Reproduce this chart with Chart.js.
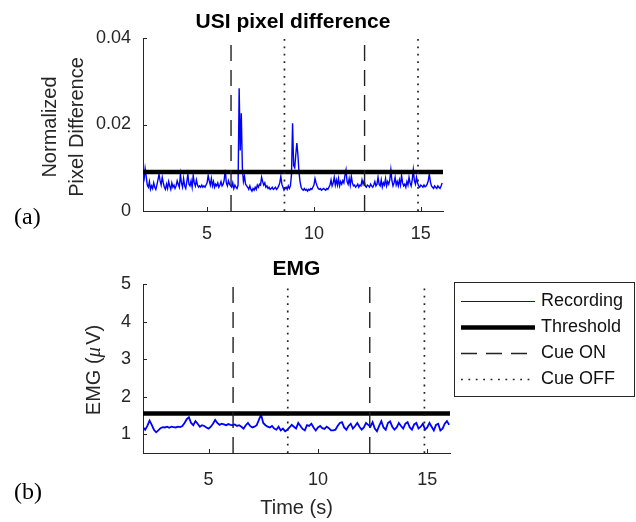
<!DOCTYPE html>
<html>
<head>
<meta charset="utf-8">
<script src="https://cdn.jsdelivr.net/npm/chart.js@4.4.1/dist/chart.umd.min.js"></script>
<style>
  html, body { margin: 0; padding: 0; background: #fff; }
  #wrap { position: relative; width: 636px; height: 522px; }
  canvas { position: absolute; left: 0; }
  #usiChart { top: 0; }
  #emgChart { top: 240px; }
</style>
</head>
<body>
<div id="wrap">
  <canvas id="usiChart" width="636" height="240"></canvas>
  <canvas id="emgChart" width="636" height="282"></canvas>
</div>
<script>
// time axis
const timeRange = [2.0, 16.04];
const timeTicks = [5, 10, 15];
const usiStart = 2.0, usiStep = 0.05;   // sampling of the USI trace
const emgStart = 2.0, emgStep = 0.1;    // sampling of the EMG trace

// cue times (s)
const cueOn = [6.12, 12.37];
const cueOff = [8.62, 14.87];

// USI normalized pixel difference, one row per second
const usiValues = [
  0.0062,0.0072,0.0098,0.0080,0.0060,0.0055,0.0068,0.0050,0.0058,0.0052,0.0065,0.0055,0.0050,0.0060,0.0072,0.0085,0.0070,0.0060,0.0078,0.0065,
  0.0055,0.0050,0.0062,0.0052,0.0068,0.0058,0.0050,0.0065,0.0055,0.0060,0.0052,0.0058,0.0070,0.0062,0.0055,0.0085,0.0065,0.0055,0.0075,0.0058,
  0.0052,0.0068,0.0085,0.0062,0.0058,0.0070,0.0055,0.0082,0.0065,0.0058,0.0072,0.0060,0.0055,0.0058,0.0055,0.0060,0.0055,0.0058,0.0055,0.0060,
  0.0065,0.0082,0.0070,0.0060,0.0075,0.0058,0.0068,0.0055,0.0062,0.0058,0.0065,0.0055,0.0060,0.0068,0.0058,0.0062,0.0072,0.0095,0.0065,0.0058,
  0.0070,0.0062,0.0058,0.0055,0.0065,0.0052,0.0060,0.0055,0.0052,0.0060,0.0284,0.0140,0.0226,0.0100,0.0068,0.0080,0.0062,0.0058,0.0055,0.0050,
  0.0058,0.0050,0.0046,0.0052,0.0048,0.0055,0.0050,0.0060,0.0055,0.0062,0.0060,0.0078,0.0068,0.0060,0.0065,0.0055,0.0058,0.0052,0.0055,0.0050,
  0.0052,0.0055,0.0050,0.0052,0.0055,0.0050,0.0053,0.0058,0.0065,0.0080,0.0062,0.0055,0.0048,0.0052,0.0055,0.0050,0.0058,0.0052,0.0058,0.0085,
  0.0203,0.0105,0.0100,0.0130,0.0157,0.0130,0.0090,0.0068,0.0055,0.0050,0.0048,0.0052,0.0048,0.0050,0.0046,0.0050,0.0048,0.0052,0.0050,0.0055,
  0.0060,0.0075,0.0065,0.0058,0.0052,0.0050,0.0052,0.0048,0.0050,0.0052,0.0050,0.0048,0.0052,0.0050,0.0055,0.0060,0.0072,0.0058,0.0065,0.0078,
  0.0060,0.0072,0.0060,0.0075,0.0058,0.0068,0.0062,0.0070,0.0065,0.0082,0.0095,0.0068,0.0062,0.0075,0.0060,0.0080,0.0065,0.0058,0.0060,0.0055,
  0.0058,0.0062,0.0055,0.0060,0.0058,0.0072,0.0062,0.0070,0.0058,0.0055,0.0060,0.0058,0.0055,0.0062,0.0058,0.0055,0.0060,0.0068,0.0058,0.0062,
  0.0078,0.0062,0.0058,0.0072,0.0055,0.0065,0.0060,0.0075,0.0058,0.0068,0.0062,0.0072,0.0095,0.0070,0.0058,0.0065,0.0078,0.0060,0.0068,0.0058,
  0.0072,0.0060,0.0082,0.0065,0.0058,0.0062,0.0055,0.0068,0.0060,0.0078,0.0065,0.0058,0.0072,0.0095,0.0070,0.0062,0.0078,0.0065,0.0058,0.0055,
  0.0060,0.0058,0.0055,0.0060,0.0056,0.0058,0.0062,0.0070,0.0085,0.0068,0.0058,0.0055,0.0052,0.0058,0.0055,0.0052,0.0058,0.0055,0.0052,0.0058,
  0.0065
];
const usiThreshold = 0.009;
const usiRange = [0, 0.04];
const usiTicks = [0, 0.02, 0.04];
const usiTickLabels = ['0', '0.02', '0.04'];

// EMG (uV), one row per second
const emgValues = [
  1.18,1.12,1.22,1.36,1.25,1.12,1.05,1.10,1.16,1.19,
  1.18,1.20,1.17,1.20,1.19,1.18,1.20,1.19,1.22,1.30,
  1.40,1.45,1.30,1.24,1.35,1.28,1.20,1.24,1.22,1.18,
  1.15,1.20,1.28,1.38,1.30,1.25,1.28,1.26,1.24,1.27,
  1.25,1.24,1.26,1.22,1.24,1.20,1.15,1.24,1.30,1.22,
  1.18,1.20,1.24,1.38,1.52,1.30,1.24,1.20,1.18,1.22,
  1.15,1.12,1.20,1.10,1.15,1.08,1.12,1.18,1.25,1.20,
  1.15,1.30,1.22,1.14,1.10,1.24,1.22,1.28,1.18,1.10,
  1.18,1.22,1.16,1.14,1.20,1.16,1.10,1.10,1.12,1.22,
  1.30,1.32,1.18,1.12,1.22,1.28,1.15,1.22,1.30,1.20,
  1.12,1.18,1.30,1.25,1.20,1.32,1.15,1.08,1.22,1.35,
  1.18,1.12,1.30,1.34,1.20,1.12,1.18,1.30,1.22,1.15,
  1.28,1.32,1.18,1.12,1.26,1.30,1.15,1.20,1.28,1.12,
  1.18,1.30,1.20,1.10,1.25,1.28,1.10,1.15,1.28,1.35,
  1.25
];
const emgThreshold = 1.55;
const emgRange = [0.5, 5];
const emgTicks = [1, 2, 3, 4, 5];
const emgTickLabels = ['1', '2', '3', '4', '5'];

const SANS = '"Liberation Sans", Arial, Helvetica, sans-serif';
const SERIF = '"Liberation Serif", "Times New Roman", serif';
const INK = '#262626';

function toPoints(values, start, step) {
  return values.map((v, i) => ({ x: +(start + i * step).toFixed(3), y: v }));
}

function buildDatasets(values, start, step, threshold, yRange, lineWidth) {
  const sets = [
    { label: 'Recording', data: toPoints(values, start, step), borderColor: '#0000ff', borderWidth: lineWidth, order: 4 },
    { label: 'Threshold', data: [{ x: timeRange[0], y: threshold }, { x: timeRange[1], y: threshold }], borderColor: '#000', borderWidth: 4.5, order: 3 }
  ];
  cueOn.forEach(t => sets.push({ label: 'Cue ON', data: [{ x: t, y: yRange[0] }, { x: t, y: yRange[1] }], borderColor: '#222', borderWidth: 1.4, borderDash: [16, 9], order: 1 }));
  cueOff.forEach(t => sets.push({ label: 'Cue OFF', data: [{ x: t, y: yRange[0] }, { x: t, y: yRange[1] }], borderColor: '#222', borderWidth: 1.7, borderDash: [1.8, 5.6], order: 2 }));
  return sets;
}

function scaleOptions(yRange, yTicks, yLabels, xHeight, xPad) {
  return {
    x: {
      type: 'linear', min: timeRange[0], max: timeRange[1],
      afterBuildTicks: s => { s.ticks = timeTicks.map(v => ({ value: v })); },
      afterFit: s => { s.height = xHeight; },
      grid: { drawOnChartArea: false, drawTicks: false },
      border: { color: INK, width: 1 },
      ticks: { font: { family: SANS, size: 18 }, color: INK, padding: xPad, maxRotation: 0 }
    },
    y: {
      type: 'linear', min: yRange[0], max: yRange[1],
      afterBuildTicks: s => { s.ticks = yTicks.map(v => ({ value: v })); },
      afterFit: s => { s.width = 143; },
      grid: { drawOnChartArea: false, drawTicks: false },
      border: { color: INK, width: 1 },
      ticks: { font: { family: SANS, size: 18 }, color: INK, padding: 12, callback: (v, i) => yLabels[i] }
    }
  };
}

// MATLAB style tick marks pointing into the plot
const inwardTicks = {
  id: 'inwardTicks',
  afterDraw(chart) {
    const { ctx, chartArea: a, scales: { x, y } } = chart;
    ctx.save();
    ctx.strokeStyle = INK;
    ctx.lineWidth = 1;
    ctx.beginPath();
    x.ticks.forEach(t => {
      const px = Math.round(x.getPixelForValue(t.value)) + 0.5;
      ctx.moveTo(px, a.bottom); ctx.lineTo(px, a.bottom - 4);
    });
    y.ticks.forEach(t => {
      const py = Math.round(y.getPixelForValue(t.value)) + 0.5;
      ctx.moveTo(a.left, py); ctx.lineTo(a.left + 4, py);
    });
    ctx.stroke();
    ctx.restore();
  }
};

function text(ctx, str, x, y, font, color, align) {
  ctx.font = font;
  ctx.fillStyle = color || INK;
  ctx.textAlign = align || 'center';
  ctx.textBaseline = 'middle';
  ctx.fillText(str, x, y);
}

const usiLabels = {
  id: 'usiLabels',
  afterDraw(chart) {
    const { ctx, chartArea: a } = chart;
    ctx.save();
    text(ctx, 'USI pixel difference', (a.left + a.right) / 2, 22, 'bold 21px ' + SANS, '#000');
    ctx.translate(0, 127);
    ctx.rotate(-Math.PI / 2);
    text(ctx, 'Normalized', 0, 50, '20px ' + SANS);
    text(ctx, 'Pixel Difference', 0, 77, '20px ' + SANS);
    ctx.restore();
    ctx.save();
    text(ctx, '(a)', 14, 218, '24px ' + SERIF, '#000', 'left');
    ctx.restore();
  }
};

const emgLabels = {
  id: 'emgLabels',
  afterDraw(chart) {
    const { ctx, chartArea: a } = chart;
    ctx.save();
    text(ctx, 'EMG', (a.left + a.right) / 2, 29, 'bold 21px ' + SANS, '#000');
    text(ctx, 'Time (s)', (a.left + a.right) / 2, 268, '20px ' + SANS);
    text(ctx, '(b)', 14, 253, '24px ' + SERIF, '#000', 'left');

    // y title with an italic mu
    const parts = [['EMG (', '20px ' + SANS], ['\u03bc', 'italic 21px ' + SERIF], ['V)', '20px ' + SANS]];
    let total = 0;
    parts.forEach(p => { ctx.font = p[1]; total += ctx.measureText(p[0]).width + (p[0] === '\u03bc' ? 2 : 0); });
    ctx.translate(94, 130);
    ctx.rotate(-Math.PI / 2);
    let cx = -total / 2;
    parts.forEach(p => {
      ctx.font = p[1];
      const w = ctx.measureText(p[0]).width + (p[0] === '\u03bc' ? 2 : 0);
      text(ctx, p[0], cx, 0, p[1], INK, 'left');
      cx += w;
    });
    ctx.restore();

    // legend box to the right of the axes
    ctx.save();
    ctx.fillStyle = '#fff';
    ctx.fillRect(454, 42, 180, 114);
    ctx.strokeStyle = INK;
    ctx.lineWidth = 1;
    ctx.strokeRect(454.5, 42.5, 180, 114);
    const order = ['Recording', 'Threshold', 'Cue ON', 'Cue OFF'];
    const seen = [];
    chart.data.datasets.forEach(ds => {
      if (!seen.find(s => s.label === ds.label)) seen.push(ds);
    });
    seen.sort((p, q) => order.indexOf(p.label) - order.indexOf(q.label));
    seen.forEach((ds, i) => {
      const yy = Math.round(60.7 + i * 26.2) + 0.5;
      ctx.beginPath();
      ctx.strokeStyle = ds.borderColor;
      ctx.lineWidth = ds.label === 'Recording' ? 1.2 : ds.borderWidth;
      ctx.setLineDash(ds.borderDash || []);
      ctx.moveTo(461, yy);
      ctx.lineTo(535, yy);
      ctx.stroke();
      ctx.setLineDash([]);
      text(ctx, ds.label, 541, yy, '18px ' + SANS, '#111', 'left');
    });
    ctx.restore();
  }
};

const common = {
  responsive: false,
  animation: false,
  elements: { point: { radius: 0 }, line: { tension: 0 } },
  plugins: { legend: { display: false }, title: { display: false }, tooltip: { enabled: false } }
};

new Chart(document.getElementById('usiChart').getContext('2d'), {
  type: 'line',
  data: { datasets: buildDatasets(usiValues, usiStart, usiStep, usiThreshold, usiRange, 1.4) },
  options: Object.assign({}, common, {
    layout: { padding: { left: 0, top: 38, right: 193, bottom: 0 } },
    scales: scaleOptions(usiRange, usiTicks, usiTickLabels, 29, 12)
  }),
  plugins: [inwardTicks, usiLabels]
});

new Chart(document.getElementById('emgChart').getContext('2d'), {
  type: 'line',
  data: { datasets: buildDatasets(emgValues, emgStart, emgStep, emgThreshold, emgRange, 1.8) },
  options: Object.assign({}, common, {
    layout: { padding: { left: 0, top: 44, right: 186, bottom: 0 } },
    scales: scaleOptions(emgRange, emgTicks, emgTickLabels, 69, 16)
  }),
  plugins: [inwardTicks, emgLabels]
});
</script>
</body>
</html>
